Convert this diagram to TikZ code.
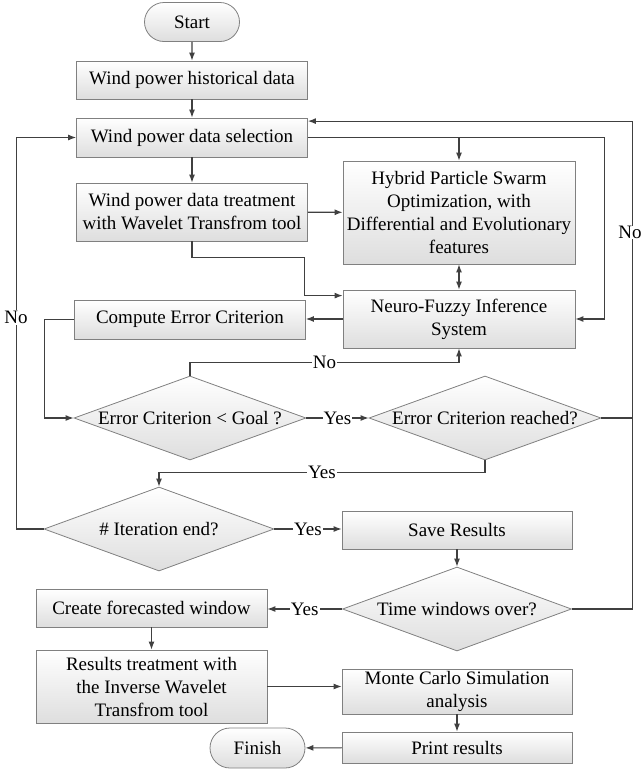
\documentclass[tikz,border=0pt]{standalone}
\usepackage{fontspec}
\setmainfont{Liberation Serif}
\usetikzlibrary{shapes.geometric,shapes.misc,arrows.meta,calc}
\newcommand{\figfont}{\fontsize{19}{23}\selectfont}
\begin{document}
\begin{tikzpicture}[x=1pt,y=-1pt,
  box/.style={draw=black!50, line width=0.8pt, top color=white, bottom color=black!13,
    minimum width=231, minimum height=38, inner sep=1pt, align=center, font=\figfont},
  term/.style={rounded rectangle, draw=black!50, line width=0.8pt, top color=white, bottom color=black!13,
    minimum width=97, minimum height=39, inner sep=1pt, font=\figfont},
  dec/.style={diamond, draw=black!50, line width=0.8pt, top color=white, bottom color=black!13,
    minimum width=232, minimum height=84, inner sep=0pt, aspect=2.75, font=\figfont},
  conn/.style={draw=black!75, line width=1.1pt, -{Latex[length=8pt,width=6pt]}},
  plain/.style={draw=black!75, line width=1.1pt},
  lab/.style={fill=white, inner sep=1pt, font=\figfont}]
\useasboundingbox (0,0) rectangle (641,769);

\node[term] (start) at (192,22) {Start};
\node[box] (hist) at (192,80) {Wind power historical data};
\node[box, minimum height=39] (sel) at (192,137.5) {Wind power data selection};
\node[box, minimum height=58] (treat) at (192,212) {Wind power data treatment\\with Wavelet Transfrom tool};
\node[box, minimum width=232, minimum height=103] (hpso) at (459,212.5) {Hybrid Particle Swarm\\Optimization, with\\Differential and Evolutionary\\features};
\node[box, minimum width=232, minimum height=58] (nf) at (459,319) {Neuro-Fuzzy Inference\\System};
\node[box, minimum height=39] (comp) at (190,319.5) {Compute Error Criterion};
\node[dec] (d1) at (190,418) {\makebox[0pt]{Error Criterion < Goal ?}};
\node[dec] (d2) at (485,418) {\makebox[0pt]{Error Criterion reached?}};
\node[dec, minimum width=230] (d3) at (159,529) {\makebox[0pt]{\# Iteration end?}};
\node[box, minimum width=230] (save) at (457,530) {Save Results};
\node[dec, minimum width=229] (d4) at (457,609) {\makebox[0pt]{Time windows over?}};
\node[box] (create) at (151.5,608) {Create forecasted window};
\node[box, minimum height=73] (rt) at (151.5,686.5) {Results treatment with\\the Inverse Wavelet\\Transfrom tool};
\node[box, minimum width=230, minimum height=45] (mc) at (457,691.5) {Monte Carlo Simulation\\analysis};
\node[box, minimum width=230, minimum height=31] (print) at (457,747.5) {Print results};
\node[term, minimum height=40] (finish) at (257.5,748) {Finish};

\coordinate (selin) at ($(sel.north east)+(0,3.5)$);
\coordinate (nfin) at ($(nf.north west)+(0,6)$);

\draw[conn] (start) -- (hist);
\draw[conn] (hist) -- (sel);
\draw[conn] (sel) -- (treat);
\draw[conn] (treat) -- (hpso);
\draw[conn] (treat.south) -- ++(0,16) -| ($(nfin)+(-38,0)$) -- (nfin);
\draw[conn] (sel.east) -- ++(297,0) |- (nf.east);
\draw[conn] (hpso.north |- sel.east) -- (hpso.north);
\draw[draw=black!75, line width=1.1pt, {Latex[length=8pt,width=6pt]}-{Latex[length=8pt,width=6pt]}] (hpso) -- (nf);
\draw[conn] (nf.west) -- (nf.west -| comp.east);
\draw[conn] (comp.west) -- ++(-30,0) |- (d1.west);
\draw[conn] (d1.north) -- ++(0,-13) -| node[pos=0.25,lab]{No} (nf.south);
\draw[conn] (d1.east) -- node[lab]{Yes} (d2.west);
\draw[conn] (d2.south) -- ++(0,12) -| node[pos=0.25,lab]{Yes} (d3.north);
\draw[conn] (d3.west) -| node[pos=0.77,lab]{No} ($(sel.west)+(-60,0)$) -- (sel.west);
\draw[conn] (d3.east) -- node[lab]{Yes} (d3.east -| save.west);
\draw[plain] (d2.east) -- ++(31,0);
\draw[conn] (d4.east) -| node[pos=0.886,lab,inner sep=0.5pt,xshift=-3pt]{No} ($(selin)+(325,0)$) -- (selin);
\draw[conn] (save) -- (d4);
\draw[conn] (d4.west) -- node[lab]{Yes} (d4.west -| create.east);
\draw[conn] (create) -- (rt);
\draw[conn] (rt.east) -- (rt.east -| mc.west);
\draw[conn] (mc) -- (print);
\draw[conn] (print) -- (finish);
\end{tikzpicture}
\end{document}
